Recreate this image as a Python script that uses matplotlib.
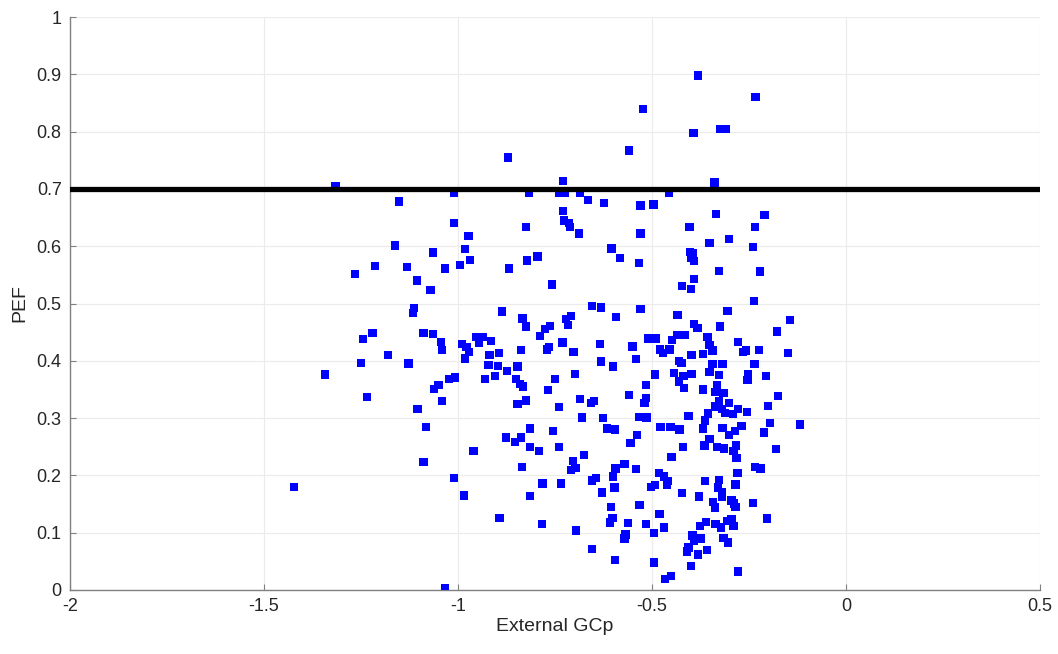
import matplotlib
matplotlib.use("Agg")
from matplotlib import pyplot as plt
import numpy as np

plt.rcParams['font.family'] = ['Liberation Sans', 'DejaVu Sans']

# data (External GCp, PEF)
gcp_top = [-0.381, -0.233, -0.524, -0.325, -0.309, -0.393, -0.560, -0.871, -0.730, -0.339,
           -1.316, -1.010, -0.817, -0.740, -0.724, -0.686, -0.457]
pef_top = [0.898, 0.860, 0.839, 0.805, 0.805, 0.797, 0.767, 0.755, 0.714, 0.711,
           0.705, 0.693, 0.693, 0.693, 0.694, 0.694, 0.693]

gcp_left = [-1.152, -1.010, -1.162, -1.064, -1.214, -1.131, -1.034, -0.995, -1.265, -1.105,
            -1.071, -1.114, -1.116,
            -1.220, -1.244, -1.089, -1.064, -1.044, -1.042, -1.180, -1.250, -1.128, -1.342,
            -1.050, -1.062, -1.023, -1.007, -1.235, -1.041, -1.104, -1.082, -1.089,
            -1.010, -1.423, -1.033]
pef_left = [0.678, 0.640, 0.601, 0.589, 0.565, 0.564, 0.561, 0.567, 0.551, 0.540,
            0.524, 0.492, 0.483,
            0.448, 0.438, 0.449, 0.447, 0.433, 0.419, 0.410, 0.396, 0.395, 0.376,
            0.358, 0.351, 0.368, 0.371, 0.337, 0.330, 0.316, 0.284, 0.223,
            0.196, 0.180, 0.004]

gcp_mid = [-0.665, -0.624, -0.530, -0.729, -0.726, -0.714, -0.711, -0.825, -0.688, -0.973,
           -0.530, -0.982, -0.604, -0.583, -0.969, -0.795, -0.822, -0.868, -0.533, -0.757,
           -0.655, -0.632, -0.530, -0.887, -0.834, -0.592, -0.722, -0.709, -0.824, -0.763,
           -0.776, -0.717,
           -0.789, -0.952, -0.936, -0.915, -0.946, -0.990, -0.978, -0.971, -0.982, -0.919,
           -0.894, -0.838, -0.770, -0.765, -0.731, -0.702, -0.634, -0.550, -0.921, -0.897,
           -0.847, -0.631, -0.600, -0.542, -0.873, -0.699, -0.930, -0.905, -0.850, -0.750,
           -0.840, -0.832, -0.768, -0.824, -0.847, -0.686, -0.657, -0.649, -0.559, -0.739,
           -0.680, -0.626, -0.532, -0.814, -0.756, -0.616, -0.595, -0.539, -0.877, -0.853,
           -0.838, -0.555, -0.814, -0.792, -0.740, -0.960, -0.676, -0.703, -0.571,
           -0.835, -0.709, -0.697, -0.594, -0.542, -0.782, -0.734, -0.654, -0.645, -0.601,
           -0.597, -0.629, -0.985, -0.815, -0.606, -0.532, -0.893, -0.783, -0.602, -0.609,
           -0.561, -0.696, -0.568, -0.571, -0.655, -0.595]
pef_mid = [0.681, 0.675, 0.671, 0.662, 0.645, 0.641, 0.634, 0.634, 0.622, 0.618,
           0.622, 0.595, 0.596, 0.579, 0.576, 0.582, 0.575, 0.561, 0.571, 0.533,
           0.496, 0.493, 0.490, 0.486, 0.474, 0.477, 0.473, 0.478, 0.460, 0.461,
           0.456, 0.462,
           0.443, 0.442, 0.442, 0.435, 0.432, 0.429, 0.424, 0.415, 0.404, 0.410,
           0.414, 0.419, 0.420, 0.424, 0.432, 0.415, 0.429, 0.425, 0.393, 0.391,
           0.390, 0.399, 0.390, 0.403, 0.382, 0.377, 0.368, 0.374, 0.368, 0.368,
           0.360, 0.355, 0.349, 0.331, 0.325, 0.333, 0.326, 0.330, 0.340, 0.319,
           0.301, 0.300, 0.302, 0.282, 0.278, 0.282, 0.280, 0.271, 0.266, 0.258,
           0.266, 0.257, 0.250, 0.243, 0.250, 0.243, 0.236, 0.225, 0.220,
           0.215, 0.209, 0.213, 0.212, 0.211, 0.186, 0.186, 0.191, 0.196, 0.198,
           0.179, 0.170, 0.165, 0.164, 0.145, 0.148, 0.126, 0.115, 0.126, 0.118,
           0.117, 0.104, 0.097, 0.090, 0.072, 0.052]

gcp_right = [-0.496, -0.335, -0.210, -0.403, -0.235, -0.301, -0.352, -0.239, -0.402, -0.395,
             -0.398, -0.391, -0.327, -0.222, -0.391, -0.422, -0.400, -0.237, -0.305, -0.434,
             -0.144, -0.391, -0.383, -0.325,
             -0.177, -0.510, -0.490, -0.436, -0.415, -0.449, -0.357, -0.352, -0.344, -0.279,
             -0.265, -0.258, -0.224, -0.150, -0.479, -0.455, -0.472, -0.398, -0.369, -0.430,
             -0.424, -0.344, -0.318, -0.236, -0.493, -0.443, -0.419, -0.398, -0.352, -0.327,
             -0.253, -0.206, -0.254, -0.430, -0.515, -0.333, -0.418, -0.368, -0.338, -0.316,
             -0.176, -0.515, -0.519, -0.327, -0.302, -0.338, -0.320, -0.278, -0.256, -0.355,
             -0.312, -0.292, -0.201, -0.406, -0.514, -0.363, -0.196, -0.119, -0.478, -0.452,
             -0.429, -0.369, -0.318, -0.269, -0.286, -0.211, -0.301, -0.352, -0.365, -0.332,
             -0.314, -0.284, -0.420, -0.290, -0.180, -0.450, -0.282,
             -0.235, -0.220, -0.280, -0.482, -0.469, -0.458, -0.462, -0.493, -0.503, -0.364,
             -0.327, -0.330, -0.320, -0.319, -0.285, -0.422, -0.379, -0.343, -0.338, -0.295,
             -0.288, -0.285, -0.240, -0.481, -0.204, -0.515, -0.469, -0.495, -0.360, -0.377,
             -0.336, -0.323, -0.307, -0.295, -0.290, -0.396, -0.374, -0.316, -0.304, -0.391,
             -0.406, -0.410, -0.381, -0.358, -0.494, -0.400, -0.278, -0.451, -0.466]
pef_right = [0.673, 0.656, 0.654, 0.634, 0.633, 0.613, 0.606, 0.599, 0.590, 0.588,
             0.579, 0.574, 0.557, 0.556, 0.543, 0.531, 0.525, 0.504, 0.487, 0.480,
             0.471, 0.464, 0.457, 0.460,
             0.451, 0.439, 0.439, 0.445, 0.445, 0.436, 0.441, 0.428, 0.418, 0.433,
             0.415, 0.418, 0.419, 0.414, 0.420, 0.420, 0.414, 0.410, 0.412, 0.400,
             0.396, 0.394, 0.394, 0.394, 0.376, 0.379, 0.373, 0.377, 0.381, 0.375,
             0.376, 0.374, 0.366, 0.364, 0.358, 0.358, 0.352, 0.350, 0.346, 0.344,
             0.339, 0.335, 0.326, 0.330, 0.326, 0.320, 0.316, 0.316, 0.311, 0.308,
             0.309, 0.307, 0.321, 0.304, 0.301, 0.296, 0.292, 0.289, 0.285, 0.284,
             0.280, 0.282, 0.283, 0.286, 0.278, 0.275, 0.270, 0.263, 0.252, 0.250,
             0.247, 0.252, 0.250, 0.243, 0.246, 0.232, 0.230,
             0.215, 0.212, 0.204, 0.204, 0.198, 0.190, 0.183, 0.183, 0.180, 0.190,
             0.192, 0.179, 0.170, 0.163, 0.184, 0.169, 0.163, 0.154, 0.144, 0.156,
             0.151, 0.145, 0.152, 0.133, 0.125, 0.115, 0.109, 0.099, 0.119, 0.112,
             0.115, 0.109, 0.120, 0.124, 0.112, 0.095, 0.090, 0.091, 0.083, 0.086,
             0.074, 0.067, 0.062, 0.070, 0.048, 0.042, 0.032, 0.024, 0.019]

gcp = np.array(gcp_top + gcp_left + gcp_mid + gcp_right)
pef = np.array(pef_top + pef_left + pef_mid + pef_right)

threshold = 0.7
xticks = [-2, -1.5, -1, -0.5, 0, 0.5]
yticks = np.round(np.arange(0, 1.01, 0.1), 1)

fig = plt.figure(figsize=(10.58, 6.54), dpi=100)
ax = fig.add_axes([70 / 1058, 64 / 654, 970 / 1058, 573 / 654])

ax.scatter(gcp, pef, marker='s', s=36, color='#0000ff', edgecolors='none', zorder=3)
ax.axhline(threshold, color='black', linewidth=3.8, zorder=4)

ax.set_xlim(-2, 0.5)
ax.set_ylim(0, 1)
ax.set_xticks(xticks)
ax.set_xticklabels([f"{t:g}" for t in xticks])
ax.set_yticks(yticks)
ax.set_yticklabels([f"{t:g}" for t in yticks])

ax.grid(True, color='#ebebeb', linewidth=0.8, zorder=0)
ax.set_axisbelow(True)
for side in ['top', 'right']:
    ax.spines[side].set_visible(False)
for side in ['left', 'bottom']:
    ax.spines[side].set_color('#808080')
    ax.spines[side].set_linewidth(1.0)

ax.tick_params(direction='in', length=4, color='#808080', labelsize=13,
               labelcolor='#262626', pad=6)
ax.set_xlabel("External GCp", fontsize=14, color='#262626', labelpad=2)
ax.set_ylabel("PEF", fontsize=14, color='#262626', labelpad=6)

plt.savefig("out.png", dpi=100)
plt.close()
